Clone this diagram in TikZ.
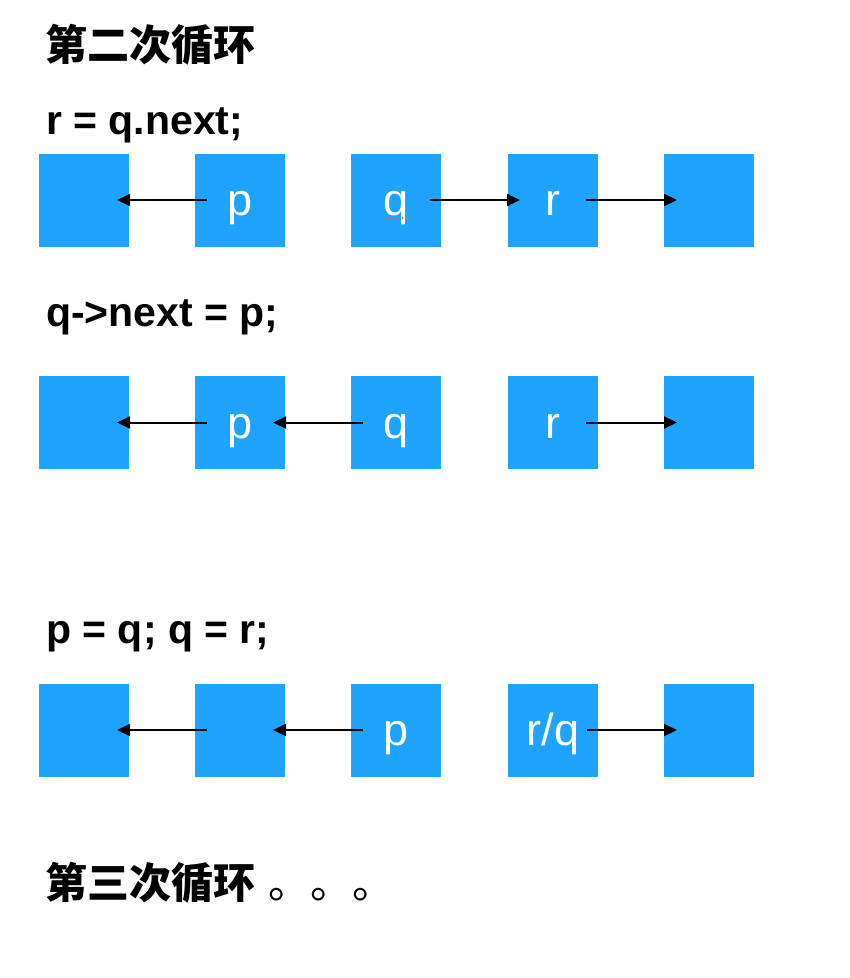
\documentclass[tikz,border=0pt]{standalone}
\usepackage{fontspec}
\setmainfont{Liberation Sans}
\newfontfamily\cjk{Noto Sans CJK SC}
\usetikzlibrary{arrows.meta}
\definecolor{c1}{HTML}{1EA3FE}
\definecolor{c5}{HTML}{F0605A}

\begin{document}
\begin{tikzpicture}[x=1pt, y=-1pt,
    box/.style={fill=c1, minimum width=90pt, minimum height=93pt, inner sep=0pt,
      text=white, font=\fontsize{45}{45}\selectfont, text height=31pt, text depth=0pt},
    link/.style={line width=2pt, -{Triangle[length=13pt, width=12pt]}},
    title/.style={anchor=base west, inner sep=0pt, font=\fontsize{41}{48}\selectfont\bfseries},
    cntitle/.style={title, font=\fontsize{42}{48}\selectfont\bfseries\cjk}]
	\useasboundingbox (0, 0) rectangle (850, 978);

	% headings
	\node [cntitle] (t1) at (45, 60) {第二次循环};
	\node [title] (s1) at (46, 134) {r = q.next;};
	\node [title] (s2) at (46, 326) {q->next = p;};
	\node [title] (s3) at (46, 643) {p = q; q = r;};
	\node [cntitle] (t2) at (45, 898) {第三次循环\hspace{4pt} {\mdseries 。。。}};

	% r = q.next;
	\node [box] (a1) at (84, 200) {};
	\node [box] (p1) at (240, 200) {p};
	\node [box] (q1) at (396, 200) {q};
	\node [box] (r1) at (553, 200) {r};
	\node [box] (e1) at (709, 200) {};
	\draw [link] ([xshift=-33pt]p1.center) -- ([xshift=33pt]a1.center);
	\draw [link] ([xshift=34pt]q1.center) -- ([xshift=-33pt]r1.center);
	\draw [link] ([xshift=33pt]r1.center) -- ([xshift=-32pt]e1.center);
	\draw [c5, dotted, line width=1.2pt] (383, 218) -- (408, 218);

	% q->next = p;
	\node [box] (a2) at (84, 422.5) {};
	\node [box] (p2) at (240, 422.5) {p};
	\node [box] (q2) at (396, 422.5) {q};
	\node [box] (r2) at (553, 422.5) {r};
	\node [box] (e2) at (709, 422.5) {};
	\draw [link] ([xshift=-33pt]p2.center) -- ([xshift=33pt]a2.center);
	\draw [link] ([xshift=-33pt]q2.center) -- ([xshift=33pt]p2.center);
	\draw [link] ([xshift=33pt]r2.center) -- ([xshift=-32pt]e2.center);

	% p = q; q = r;
	\node [box] (a3) at (84, 730) {};
	\node [box] (b3) at (240, 730) {};
	\node [box] (p3) at (396, 730) {p};
	\node [box] (q3) at (553, 730) {r/q};
	\node [box] (e3) at (709, 730) {};
	\draw [link] ([xshift=-33pt]b3.center) -- ([xshift=33pt]a3.center);
	\draw [link] ([xshift=-33pt]p3.center) -- ([xshift=33pt]b3.center);
	\draw [link] ([xshift=34pt]q3.center) -- ([xshift=-32pt]e3.center);
\end{tikzpicture}
\end{document}
